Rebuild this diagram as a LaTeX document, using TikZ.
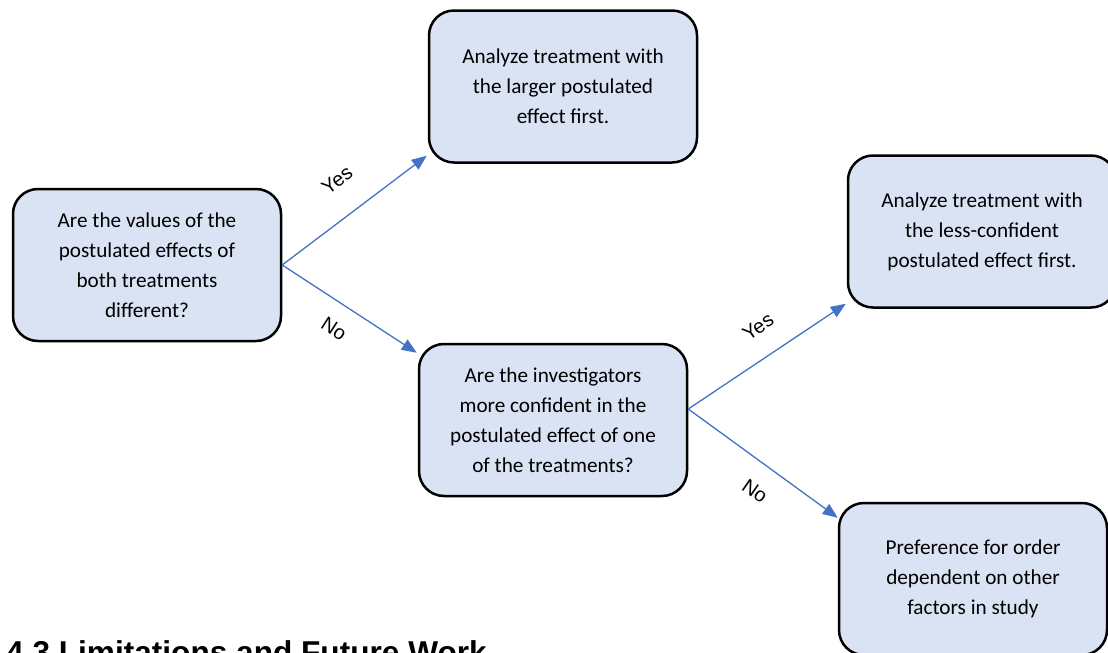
\documentclass[tikz,border=0pt]{standalone}
\usepackage{fontspec}
\setmainfont{Carlito}
\newfontfamily\arialfont{Liberation Sans}
\usetikzlibrary{arrows.meta}
\definecolor{boxfill}{HTML}{DAE3F3}
\definecolor{arrowblue}{HTML}{4472C4}
\tikzset{
  flowbox/.style={draw=black, line width=2.5pt, fill=boxfill, rounded corners=25pt,
    minimum width=268pt, minimum height=152pt, align=center, inner sep=0pt,
    font=\fontsize{21.2}{30}\selectfont},
  conn/.style={draw=arrowblue, line width=1.3pt, -{Triangle[length=15pt,width=12pt]}},
  lbl/.style={font=\arialfont\fontsize{20}{22}\selectfont, inner sep=0pt},
}
\begin{document}
\begin{tikzpicture}[x=1pt,y=-1pt]
\useasboundingbox (0,0) rectangle (1108,653);
\clip (0,0) rectangle (1108,653);
\node[flowbox] (b1) at (147,265) {Are the values of the\\postulated effects of\\both treatments\\different?};
\node[flowbox] (b2) at (563,86.5) {Analyze treatment with\\the larger postulated\\effect first.};
\node[flowbox] (b3) at (982,231.5) {Analyze treatment with\\the less-confident\\postulated effect first.};
\node[flowbox] (b4) at (553,420) {Are the investigators\\more confident in the\\postulated effect of one\\of the treatments?};
\node[flowbox] (b5) at (973,579) {Preference for order\\dependent on other\\factors in study};
\draw[conn] (b1.east) -- ([shift={(-1,-8)}]b2.south west);
\draw[conn] (b1.east) -- ([shift={(-1,10)}]b4.north west);
\draw[conn] ([shift={(0,-11)}]b4.east) -- ([shift={(-1,-5)}]b3.south west);
\draw[conn] ([shift={(0,-11)}]b4.east) -- ([shift={(0,16)}]b5.north west);
\node[lbl, rotate=37] (y1) at (337,180) {Yes};
\node[lbl, rotate=-33] (n1) at (334,329) {No};
\node[lbl, rotate=35] (y2) at (758,327) {Yes};
\node[lbl, rotate=-35] (n2) at (755,491) {No};
\node[anchor=base west, inner sep=0pt, font=\arialfont\bfseries\fontsize{31.6}{34}\selectfont] (h) at (6,663) {4.3 Limitations and Future Work};
\end{tikzpicture}
\end{document}
